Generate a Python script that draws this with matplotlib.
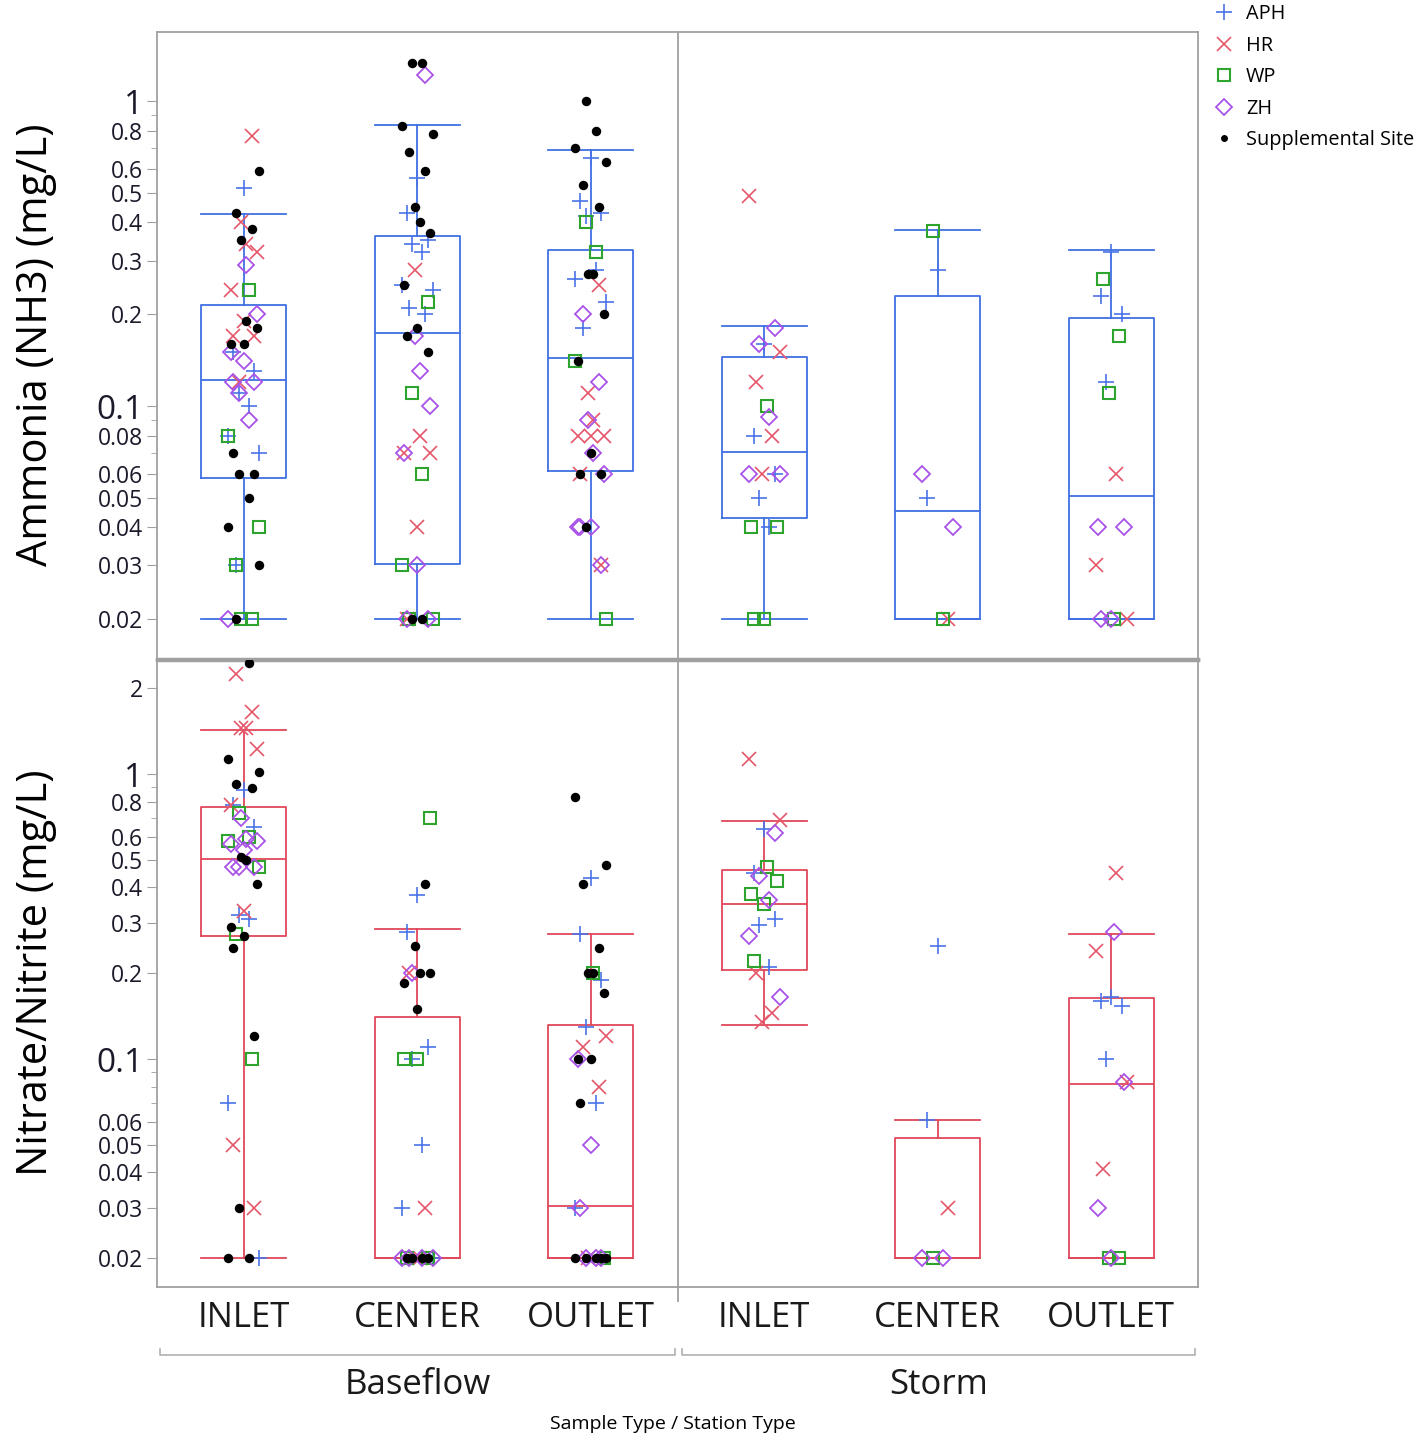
import numpy as np
import matplotlib
matplotlib.use("Agg")
import matplotlib.pyplot as plt
from matplotlib.lines import Line2D
from matplotlib.ticker import FixedLocator, NullFormatter

plt.rcParams["font.family"] = ["Open Sans", "DejaVu Sans"]

# ---- data ----
sample_types = ["Baseflow", "Storm"]
stations = ["INLET", "CENTER", "OUTLET"]
sites = ["APH", "HR", "WP", "ZH", "Supplemental Site"]
# group order: Baseflow INLET, CENTER, OUTLET, Storm INLET, CENTER, OUTLET

# Ammonia (NH3) mg/L
nh3_aph = [[0.52, 0.15, 0.13, 0.11, 0.1, 0.08, 0.07, 0.03],
           [0.56, 0.43, 0.35, 0.34, 0.32, 0.25, 0.24, 0.21, 0.2],
           [0.65, 0.47, 0.43, 0.42, 0.28, 0.26, 0.22, 0.18],
           [0.16, 0.08, 0.06, 0.05, 0.04],
           [0.28, 0.05],
           [0.32, 0.23, 0.2, 0.12]]
nh3_hr = [[0.77, 0.4, 0.34, 0.32, 0.24, 0.19, 0.17, 0.17, 0.12],
          [0.28, 0.08, 0.07, 0.07, 0.04, 0.02],
          [0.25, 0.11, 0.09, 0.08, 0.08, 0.08, 0.06, 0.03],
          [0.49, 0.15, 0.12, 0.08, 0.06],
          [0.02],
          [0.06, 0.03, 0.02]]
nh3_wp = [[0.24, 0.08, 0.04, 0.03, 0.02, 0.02],
          [0.22, 0.11, 0.06, 0.03, 0.02, 0.02],
          [0.4, 0.32, 0.14, 0.02],
          [0.1, 0.04, 0.04, 0.02, 0.02],
          [0.375, 0.02],
          [0.26, 0.17, 0.11, 0.02]]
nh3_zh = [[0.29, 0.2, 0.15, 0.14, 0.12, 0.12, 0.11, 0.09, 0.02],
          [1.22, 0.17, 0.13, 0.1, 0.07, 0.03, 0.02, 0.02],
          [0.2, 0.12, 0.09, 0.07, 0.06, 0.04, 0.04, 0.04, 0.03],
          [0.18, 0.16, 0.092, 0.06, 0.06],
          [0.06, 0.04],
          [0.04, 0.04, 0.02, 0.02]]
nh3_sup = [[0.59, 0.43, 0.38, 0.35, 0.19, 0.18, 0.16, 0.16, 0.07, 0.06, 0.06, 0.05, 0.04, 0.03, 0.02],
           [1.33, 1.33, 0.83, 0.78, 0.68, 0.59, 0.45, 0.4, 0.37, 0.25, 0.18, 0.17, 0.15, 0.02, 0.02],
           [1.0, 0.8, 0.7, 0.63, 0.53, 0.45, 0.27, 0.27, 0.2, 0.14, 0.07, 0.06, 0.06, 0.04],
           [], [], []]
nh3_q1 = [0.058, 0.0303, 0.0612, 0.043, 0.02, 0.02]
nh3_med = [0.1216, 0.173, 0.1435, 0.0707, 0.0453, 0.0507]
nh3_q3 = [0.214, 0.36, 0.324, 0.145, 0.23, 0.195]
nh3_lo = [0.02, 0.02, 0.02, 0.02, 0.02, 0.02]
nh3_hi = [0.426, 0.834, 0.69, 0.183, 0.378, 0.324]

# Nitrate/Nitrite mg/L
no3_aph = [[0.88, 0.78, 0.65, 0.32, 0.31, 0.07, 0.02],
           [0.375, 0.28, 0.11, 0.1, 0.05, 0.03, 0.02],
           [0.43, 0.275, 0.19, 0.13, 0.07, 0.03],
           [0.64, 0.45, 0.31, 0.295, 0.21],
           [0.25, 0.061],
           [0.165, 0.16, 0.153, 0.1]]
no3_hr = [[2.25, 1.65, 1.45, 1.45, 1.22, 0.78, 0.33, 0.05, 0.03],
          [0.2, 0.03, 0.02, 0.02],
          [0.12, 0.11, 0.08, 0.02],
          [1.13, 0.69, 0.2, 0.145, 0.135],
          [0.03],
          [0.45, 0.24, 0.083, 0.041]]
no3_wp = [[0.73, 0.6, 0.58, 0.47, 0.275, 0.1],
          [0.7, 0.1, 0.1, 0.02, 0.02],
          [0.2, 0.02],
          [0.47, 0.42, 0.38, 0.35, 0.22],
          [0.02],
          [0.02, 0.02]]
no3_zh = [[0.7, 0.59, 0.58, 0.57, 0.54, 0.47, 0.47, 0.47],
          [0.2, 0.02, 0.02, 0.02, 0.02],
          [0.1, 0.05, 0.03, 0.02, 0.02, 0.02],
          [0.62, 0.44, 0.36, 0.27, 0.165],
          [0.02, 0.02],
          [0.28, 0.083, 0.03, 0.02]]
no3_sup = [[2.45, 1.13, 1.02, 0.92, 0.89, 0.51, 0.5, 0.41, 0.29, 0.27, 0.245, 0.12, 0.03, 0.02, 0.02],
           [0.41, 0.25, 0.2, 0.2, 0.185, 0.15, 0.02, 0.02, 0.02, 0.02],
           [0.83, 0.48, 0.41, 0.245, 0.2, 0.2, 0.17, 0.1, 0.1, 0.07, 0.02, 0.02, 0.02, 0.02, 0.02],
           [], [], []]
no3_q1 = [0.27, 0.02, 0.02, 0.205, 0.02, 0.02]
no3_med = [0.503, 0.02, 0.0305, 0.35, 0.02, 0.0817]
no3_q3 = [0.765, 0.14, 0.1315, 0.46, 0.0528, 0.1637]
no3_lo = [0.02, 0.02, 0.02, 0.1315, 0.02, 0.02]
no3_hi = [1.43, 0.286, 0.275, 0.684, 0.061, 0.275]

nh3_ticks = [1, 0.8, 0.6, 0.5, 0.4, 0.3, 0.2, 0.1, 0.08, 0.06, 0.05, 0.04, 0.03, 0.02]
nh3_minor = [0.9, 0.7, 0.09, 0.07]
no3_ticks = [2, 1, 0.8, 0.6, 0.5, 0.4, 0.3, 0.2, 0.1, 0.06, 0.05, 0.04, 0.03, 0.02]
no3_minor = [0.9, 0.7, 0.09, 0.08, 0.07]

# ---- style ----
GRAY = "#a0a0a0"
BLUE_BOX = "#3f6fe3"
RED_BOX = "#e0485b"
site_style = {
    "APH": dict(marker="+", color="#4a74e8", ms=12, mew=1.2),
    "HR": dict(marker="x", color="#e5566a", ms=10, mew=1.2),
    "WP": dict(marker="s", color="#2ea32e", mfc="none", ms=9, mew=1.5),
    "ZH": dict(marker="D", color="#a952e8", mfc="none", ms=8, mew=1.3),
    "Supplemental Site": dict(marker="o", color="black", ms=6.8, mew=0),
}
jitter = [0.0, -0.06, 0.06, -0.03, 0.03, -0.09, 0.09, -0.045, 0.045, -0.015, 0.015, 0.075, -0.075]
positions = np.arange(6) + 0.5

fig = plt.figure(figsize=(14.23, 14.40), dpi=100)
ax1 = fig.add_axes([157 / 1423, 1 - 659 / 1440, 1041 / 1423, 627 / 1440])
ax2 = fig.add_axes([157 / 1423, 1 - 1287 / 1440, 1041 / 1423, 627 / 1440])


def draw_panel(ax, site_values, q1, med, q3, lo, hi, box_color, ylim, major, minor):
    stats = [dict(med=med[i], q1=q1[i], q3=q3[i], whislo=lo[i], whishi=hi[i]) for i in range(6)]
    lp = dict(color=box_color, lw=1.3)
    ax.bxp(stats, positions=positions, widths=0.49, capwidths=0.49, showfliers=False,
           boxprops=lp, whiskerprops=lp, capprops=lp, medianprops=lp, manage_ticks=False)
    for g in range(6):
        k = 0
        for site, values in zip(sites, site_values):
            vals = values[g]
            offs = np.array([jitter[(k + j) % len(jitter)] for j in range(len(vals))])
            k += len(vals)
            if len(vals):
                ax.plot(positions[g] + offs, vals, ls="none", zorder=3, **site_style[site])
    ax.set_yscale("log")
    ax.set_ylim(*ylim)
    ax.set_xlim(0, 6)
    ax.yaxis.set_major_locator(FixedLocator(major))
    ax.set_yticklabels([f"{v:g}" for v in major])
    ax.yaxis.set_minor_locator(FixedLocator(minor))
    ax.yaxis.set_minor_formatter(NullFormatter())
    ax.tick_params(axis="y", which="major", length=7, color=GRAY, labelsize=16.5,
                   labelcolor="#1a1a2a", pad=3)
    ax.tick_params(axis="y", which="minor", length=4, color=GRAY)
    for lab in ax.get_yticklabels():
        if lab.get_text() in ("1", "0.1"):
            lab.set_fontsize(24)
    for sp in ax.spines.values():
        sp.set_color(GRAY)
        sp.set_linewidth(1.3)
    ax.axvline(3, color=GRAY, lw=1.3, zorder=1)


draw_panel(ax1, [nh3_aph, nh3_hr, nh3_wp, nh3_zh, nh3_sup], nh3_q1, nh3_med, nh3_q3,
           nh3_lo, nh3_hi, BLUE_BOX, (0.01481, 1.684), nh3_ticks, nh3_minor)
draw_panel(ax2, [no3_aph, no3_hr, no3_wp, no3_zh, no3_sup], no3_q1, no3_med, no3_q3,
           no3_lo, no3_hi, RED_BOX, (0.01585, 2.512), no3_ticks, no3_minor)

ax1.set_xticks([])
ax1.spines["bottom"].set_linewidth(2.5)
ax2.spines["top"].set_linewidth(2.5)
ax2.set_xticks(positions, stations * 2)
ax2.tick_params(axis="x", length=0, pad=10, labelsize=25, labelcolor="#1a1a1a")
ax2.axvline(3, ymin=-0.022, ymax=0, color=GRAY, lw=1.3, clip_on=False)

# sample type brackets
tr = ax2.get_xaxis_transform()
for (a, b), name in zip([(0.017, 2.986), (3.026, 5.983)], sample_types):
    ax2.plot([a, a, b, b], [-0.099, -0.1085, -0.1085, -0.099], color="#b0b0b0", lw=1.2,
             transform=tr, clip_on=False)
    ax2.text((a + b) / 2, -0.157, name, transform=tr, ha="center", va="center", fontsize=25,
             color="#1a1a1a")

fig.text(0.473, 1 - 1424 / 1440, "Sample Type / Station Type", ha="center", va="center", fontsize=14)
fig.text(36 / 1423, 1 - 345 / 1440, "Ammonia (NH3) (mg/L)", rotation=90, ha="center", va="center",
         fontsize=30)
fig.text(36 / 1423, 1 - 973 / 1440, "Nitrate/Nitrite (mg/L)", rotation=90, ha="center", va="center",
         fontsize=30)

handles = []
for s in sites:
    st = dict(site_style[s])
    if s == "Supplemental Site":
        st["ms"] = 5
    handles.append(Line2D([], [], ls="none", **st))
fig.legend(handles, sites, loc="upper left", bbox_to_anchor=(1212 / 1423, 1 - 2 / 1440), frameon=False,
           fontsize=14.3, handlelength=1.0, handletextpad=0.6, labelspacing=0.58, borderaxespad=0,
           borderpad=0.1)

fig.savefig("out.png", dpi=100)
